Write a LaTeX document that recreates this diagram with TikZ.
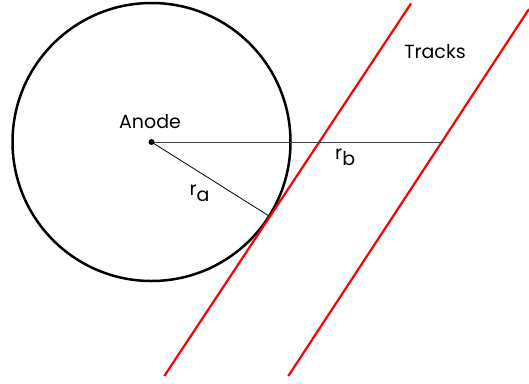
\documentclass[tikz,border=0pt]{standalone}
\usepackage{fontspec}
\setmainfont{Poppins}
\begin{document}
\begin{tikzpicture}[x=1pt,y=-1pt,
  track/.style={draw=red, line width=2.2pt},
  anode/.style={draw=black, line width=2.5pt},
  lbl/.style={font=\fontsize{19}{20}\selectfont, inner sep=0pt, anchor=base},
  thin/.style={line width=0.8pt}]
\useasboundingbox (0,0) rectangle (529,383);
\coordinate (C) at (151.5,142);
\coordinate (t1a) at (164.3,376);
\coordinate (t1b) at (411,3.5);
\coordinate (t2a) at (288.3,376);
\coordinate (t2b) at (529,9);
\coordinate (T) at (268.3,215.5);
\coordinate (B) at (441.8,142);
\draw[anode] (C) circle[radius=139];
\draw[track] (t1a) -- (t1b);
\draw[track] (t2a) -- (t2b);
\draw[thin, draw=black!75] (C) -- (B);
\draw[thin] (C) -- (T);
\fill (C) circle[radius=3];
\node[lbl] (anodelbl) at (150,128.3) {Anode};
\node[lbl] (tracks) at (435,58.3) {Tracks};
\node[lbl, anchor=base west] (ra) at (189.3,195) {r\raisebox{-6.5pt}{a}};
\node[lbl, anchor=base west] (rb) at (335,159.3) {r\raisebox{-6pt}{b}};
\end{tikzpicture}
\end{document}
